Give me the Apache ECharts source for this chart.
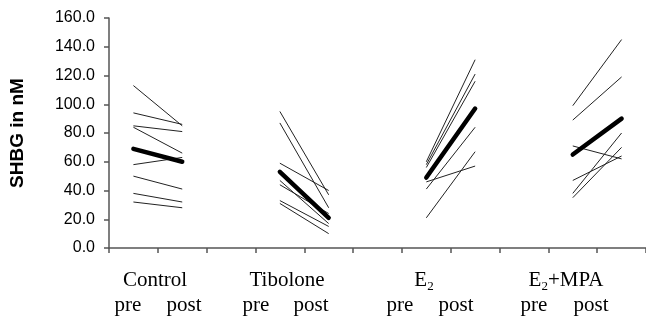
<!DOCTYPE html>
<html>
<head>
<meta charset="utf-8">
<script src="https://cdn.jsdelivr.net/npm/echarts@6/dist/echarts.min.js"></script>
<style>
html,body{margin:0;padding:0;background:#fff;}
#chart{width:646px;height:321px;}
</style>
</head>
<body>
<div id="chart"></div>
<script>
// ---- data ----
const categories = ['Control pre','Control post','gap1','Tibolone pre','Tibolone post','gap2','E2 pre','E2 post','gap3','E2+MPA pre','E2+MPA post'];
const yMin = 0, yMax = 160, yStep = 20;

const controlPre  = [113, 94, 85, 84, 58, 50, 38, 32];
const controlPost = [85, 86, 81, 66, 63, 41, 32, 28];
const controlMean = [69, 60];

const tibolonePre  = [95, 87, 59, 47, 44, 33, 31];
const tibolonePost = [37, 28, 40, 17, 24, 15, 10];
const tiboloneMean = [53, 21];

const e2Pre  = [60, 58, 56, 41, 46, 21];
const e2Post = [131, 121, 116, 84, 57, 67];
const e2Mean = [49, 97];

const mpaPre  = [99, 89, 71, 47, 38, 35];
const mpaPost = [145, 119, 62, 64, 80, 70];
const mpaMean = [65, 90];

const groupLabels = ['Control', 'Tibolone', '{a|E}{s|2}', '{a|E}{s|2}{a|+MPA}'];
const phaseLabels = ['pre', 'post'];

// ---- build ----
const groups = [
  {idx: 0, pre: controlPre, post: controlPost, mean: controlMean},
  {idx: 3, pre: tibolonePre, post: tibolonePost, mean: tiboloneMean},
  {idx: 6, pre: e2Pre, post: e2Post, mean: e2Mean},
  {idx: 9, pre: mpaPre, post: mpaPost, mean: mpaMean}
];
const series = [];
groups.forEach(g => {
  g.pre.forEach((v, i) => {
    series.push({
      type: 'line', symbol: 'none', silent: true,
      data: [[g.idx, v], [g.idx + 1, g.post[i]]],
      lineStyle: {color: '#222', width: 1}
    });
  });
  series.push({
    type: 'line', symbol: 'none', silent: true, z: 5,
    data: [[g.idx, g.mean[0]], [g.idx + 1, g.mean[1]]],
    lineStyle: {color: '#000', width: 4.5, cap: 'round'}
  });
});

const serif = '"Liberation Serif","Times New Roman",serif';
const groupX = [155, 287, 424, 566];
const phaseX = [[128, 184], [256, 311], [400, 456], [534, 591]];
const graphics = [];
groupLabels.forEach((t, i) => {
  graphics.push({
    type: 'text', x: groupX[i], y: 280, silent: true,
    style: {
      text: t, align: 'center', verticalAlign: 'middle',
      font: '21px ' + serif, fill: '#000',
      rich: {
        a: {fontFamily: serif, fontSize: 21, lineHeight: 26, color: '#000'},
        s: {fontFamily: serif, fontSize: 13, lineHeight: 12, verticalAlign: 'bottom', color: '#000'}
      }
    }
  });
  phaseLabels.forEach((p, j) => {
    graphics.push({
      type: 'text', silent: true,
      x: phaseX[i][j], y: 305,
      style: {text: p, align: 'center', verticalAlign: 'middle', font: '21px ' + serif, fill: '#000'}
    });
  });
});

const chart = echarts.init(document.getElementById('chart'), null, {renderer: 'canvas'});
chart.setOption({
  animation: false,
  backgroundColor: '#fff',
  grid: {left: 107, right: 0, top: 18, bottom: 73},
  xAxis: {
    type: 'category', data: categories, boundaryGap: true,
    axisLine: {lineStyle: {color: '#555', width: 1.5}},
    axisTick: {show: true, interval: 0, length: 5, inside: false, lineStyle: {color: '#555', width: 1.5}},
    axisLabel: {show: false},
    splitLine: {show: false}
  },
  yAxis: {
    type: 'value', min: yMin, max: yMax, interval: yStep,
    name: 'SHBG in nM', nameLocation: 'middle', nameGap: 82, nameRotate: 90,
    nameTextStyle: {fontFamily: '"Liberation Sans", Arial, sans-serif', fontWeight: 'bold', fontSize: 19, color: '#000'},
    axisLine: {show: true, lineStyle: {color: '#555', width: 1.5}},
    axisTick: {show: true, length: 5, lineStyle: {color: '#555', width: 1.5}},
    axisLabel: {formatter: v => v.toFixed(1), fontFamily: '"Liberation Sans", Arial, sans-serif', fontSize: 16, color: '#000', margin: 14},
    splitLine: {show: false}
  },
  graphic: graphics,
  series: series
});
</script>
</body>
</html>
